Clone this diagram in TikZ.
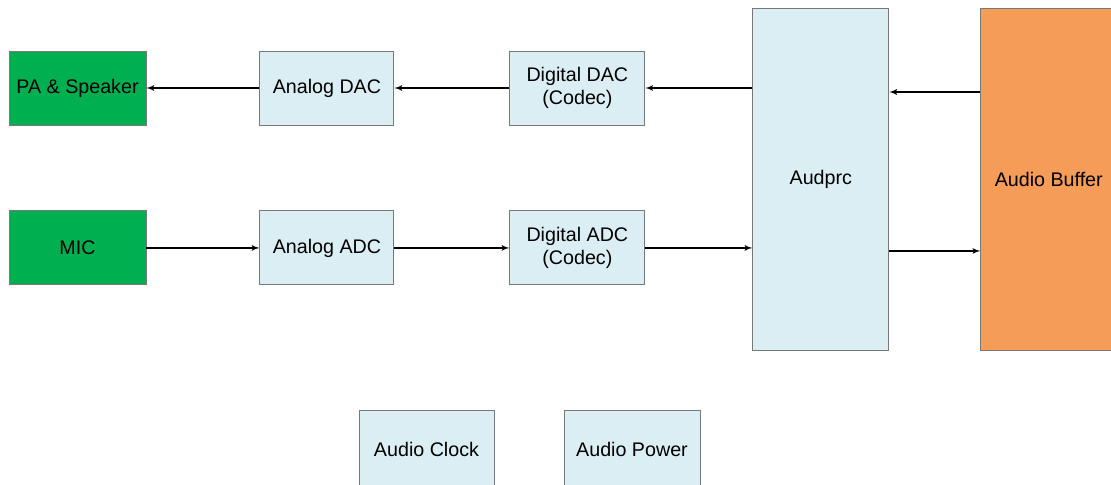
\documentclass[tikz,border=0pt]{standalone}
\usepackage{fontspec}
\setmainfont{Liberation Sans}
\usetikzlibrary{shapes,arrows,positioning,calc}
\definecolor{boxblue}{RGB}{219,238,243}
\definecolor{boxgreen}{RGB}{0,176,80}
\definecolor{boxorange}{RGB}{244,156,88}
\definecolor{boxline}{RGB}{120,120,120}
\tikzstyle{block} = [draw=boxline, line width=0.8pt, rectangle, fill=boxblue, text centered, align=center, minimum width=4.05cm, minimum height=2.22cm, font=\fontsize{16.8}{20}\selectfont]
\tikzstyle{greenblock} = [block, fill=boxgreen, minimum width=4.11cm]
\tikzstyle{line} = [draw, line width=1.3pt, -latex']
\begin{document}
\begin{tikzpicture}[node distance = 1.5cm, auto]
    \path [use as bounding box, clip] (0,0) rectangle (33.33,-14.55);
    % Nodes
    \node [greenblock] at (2.325,-2.64) (pa) {PA \& Speaker};
    \node [block, minimum width=4.02cm, right=3.39cm of pa] (adac) {Analog DAC};
    \node [block, right=3.45cm of adac] (ddac) {Digital DAC\\(Codec)};
    \node [greenblock, below=2.55cm of pa] (mic) {MIC};
    \node [block, minimum width=4.02cm, below=2.55cm of adac] (aadc) {Analog ADC};
    \node [block, below=2.55cm of ddac] (dadc) {Digital ADC\\(Codec)};
    \node [block, minimum width=4.08cm, minimum height=10.26cm, anchor=north west] at ($(ddac.north east)+(3.21,1.29)$) (audprc) {Audprc};
    \node [block, fill=boxorange, minimum width=4.08cm, minimum height=10.26cm, right=2.73cm of audprc] (buffer) {Audio Buffer};
    \node [block, minimum height=2.34cm] at (12.795,-13.47) (clock) {Audio Clock};
    \node [block, minimum width=4.08cm, minimum height=2.34cm] at (18.96,-13.47) (power) {Audio Power};

    % Paths
    \path [line] (adac) -- (pa);
    \path [line] (ddac) -- (adac);
    \path [line] (audprc.west |- ddac.east) -- (ddac.east);
    \path [line] ($(buffer.west |- ddac.east)+(0,-0.12)$) -- ($(audprc.east |- ddac.east)+(0,-0.12)$);
    \path [line] (mic) -- (aadc);
    \path [line] (aadc) -- (dadc);
    \path [line] (dadc.east) -- (audprc.west |- dadc.east);
    \path [line] ($(audprc.east |- dadc.east)+(0,-0.09)$) -- ($(buffer.west |- dadc.east)+(0,-0.09)$);
\end{tikzpicture}
\end{document}
